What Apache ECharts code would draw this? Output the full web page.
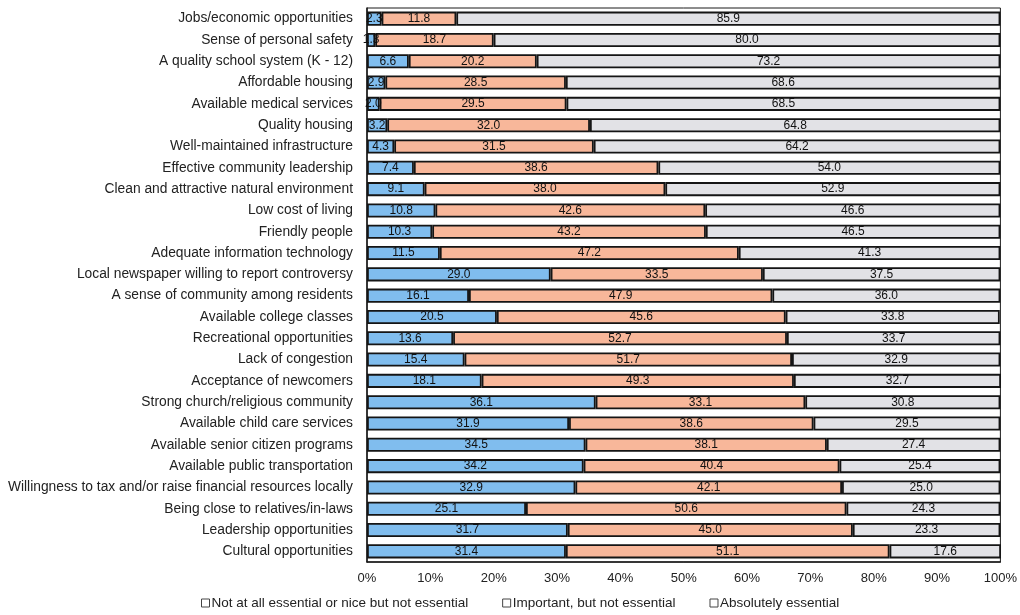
<!DOCTYPE html>
<html>
<head>
<meta charset="utf-8">
<script src="https://cdn.jsdelivr.net/npm/echarts@6/dist/echarts.min.js"></script>
<style>
  html, body { margin: 0; padding: 0; background: #ffffff; }
  #chart { width: 1020px; height: 615px; }
</style>
</head>
<body>
<div id="chart"></div>
<script>
// Community attributes, listed top to bottom
const categories = [
  'Jobs/economic opportunities',
  'Sense of personal safety',
  'A quality school system (K - 12)',
  'Affordable housing',
  'Available medical services',
  'Quality housing',
  'Well-maintained infrastructure',
  'Effective community leadership',
  'Clean and attractive natural environment',
  'Low cost of living',
  'Friendly people',
  'Adequate information technology',
  'Local newspaper willing to report controversy',
  'A sense of community among residents',
  'Available college classes',
  'Recreational opportunities',
  'Lack of congestion',
  'Acceptance of newcomers',
  'Strong church/religious community',
  'Available child care services',
  'Available senior citizen programs',
  'Available public transportation',
  'Willingness to tax and/or raise financial resources locally',
  'Being close to relatives/in-laws',
  'Leadership opportunities',
  'Cultural opportunities'
];

// Percent of respondents per answer
const notEssential = [2.3, 1.3, 6.6, 2.9, 2.0, 3.2, 4.3, 7.4, 9.1, 10.8, 10.3, 11.5, 29.0, 16.1,
  20.5, 13.6, 15.4, 18.1, 36.1, 31.9, 34.5, 34.2, 32.9, 25.1, 31.7, 31.4];
const important = [11.8, 18.7, 20.2, 28.5, 29.5, 32.0, 31.5, 38.6, 38.0, 42.6, 43.2, 47.2, 33.5, 47.9,
  45.6, 52.7, 51.7, 49.3, 33.1, 38.6, 38.1, 40.4, 42.1, 50.6, 45.0, 51.1];
const absolutely = [85.9, 80.0, 73.2, 68.6, 68.5, 64.8, 64.2, 54.0, 52.9, 46.6, 46.5, 41.3, 37.5, 36.0,
  33.8, 33.7, 32.9, 32.7, 30.8, 29.5, 27.4, 25.4, 25.0, 24.3, 23.3, 17.6];

const seriesNames = [
  'Not at all essential or nice but not essential',
  'Important, but not essential',
  'Absolutely essential'
];
const seriesValues = [notEssential, important, absolutely];
const seriesColors = ['#80bdee', '#f8b79a', '#e2e2e6'];

const chart = echarts.init(document.getElementById('chart'), null, { renderer: 'canvas' });

const labelFont = 'Liberation Sans, Arial, sans-serif';

const series = seriesNames.map((name, i) => ({
  name: name,
  type: 'bar',
  stack: 'total',
  barWidth: '66%',
  data: seriesValues[i],
  itemStyle: { color: seriesColors[i], borderColor: '#151515', borderWidth: 1.8 },
  label: {
    show: true,
    position: 'inside',
    color: '#111',
    fontFamily: labelFont,
    fontSize: 12,
    formatter: p => p.value.toFixed(1)
  },
  emphasis: { disabled: true }
}));

chart.setOption({
  animation: false,
  backgroundColor: '#ffffff',
  grid: {
    left: 367, right: 19, top: 8, bottom: 53,
    show: true, borderColor: '#1a1a1a', borderWidth: 1
  },
  xAxis: {
    type: 'value',
    min: 0, max: 100, interval: 10,
    axisLine: { show: true, lineStyle: { color: '#1a1a1a', width: 1.5 } },
    axisTick: { show: false },
    splitLine: { show: false },
    axisLabel: {
      formatter: v => v + '%',
      color: '#222', fontFamily: labelFont, fontSize: 13, margin: 10
    }
  },
  yAxis: {
    type: 'category',
    data: categories,
    inverse: true,
    axisLine: { show: true, lineStyle: { color: '#1a1a1a', width: 1.5 } },
    axisTick: { show: false },
    axisLabel: { color: '#222', fontFamily: labelFont, fontSize: 13.8, margin: 14 }
  },
  legend: {
    bottom: 0,
    left: 196,
    itemWidth: 8, itemHeight: 8, itemGap: 34,
    icon: 'rect',
    textStyle: { color: '#222', fontFamily: labelFont, fontSize: 13.5, padding: [0, 0, 0, -3] },
    data: seriesNames.map((n, i) => ({ name: n, itemStyle: { color: '#ffffff', borderColor: '#444', borderWidth: 1 } }))
  },
  series: series
});
</script>
</body>
</html>
